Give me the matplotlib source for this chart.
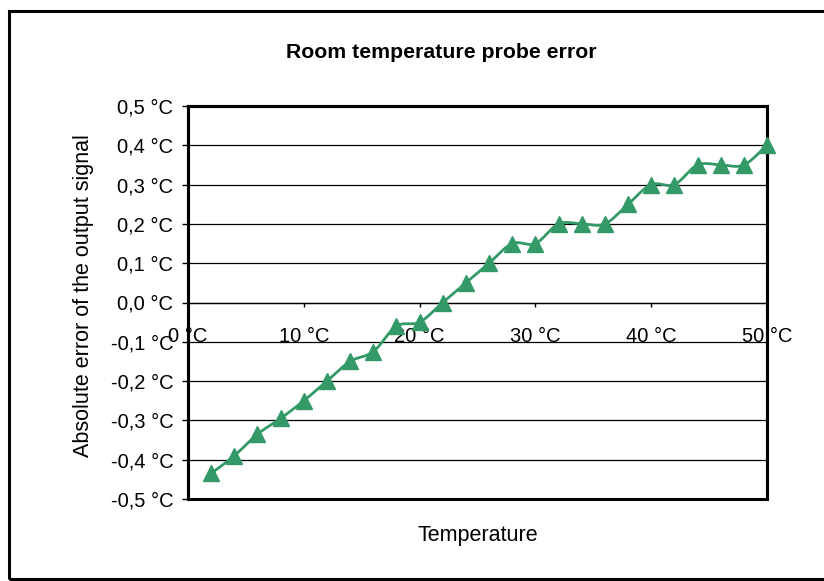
import numpy as np
import matplotlib
matplotlib.use("Agg")
import matplotlib.pyplot as plt
from matplotlib.patches import Rectangle

temps = [2, 4, 6, 8, 10, 12, 14, 16, 18, 20, 22, 24, 26,
         28, 30, 32, 34, 36, 38, 40, 42, 44, 46, 48, 50]
errors = [-0.435, -0.39, -0.335, -0.295, -0.25, -0.20, -0.15, -0.125, -0.06, -0.05, 0.0, 0.05, 0.10,
          0.15, 0.15, 0.20, 0.20, 0.20, 0.25, 0.30, 0.30, 0.35, 0.35, 0.35, 0.40]
x_ticks = [0, 10, 20, 30, 40, 50]
y_ticks = [-0.5, -0.4, -0.3, -0.2, -0.1, 0.0, 0.1, 0.2, 0.3, 0.4, 0.5]

GREEN = "#339966"
plt.rcParams['font.family'] = ['Liberation Sans', 'DejaVu Sans']


def smooth(x, y, n=20):
    # Catmull-Rom curve through the points, like Excel's smoothed line
    x = np.asarray(x, float)
    y = np.asarray(y, float)
    px = np.concatenate([[2 * x[0] - x[1]], x, [2 * x[-1] - x[-2]]])
    py = np.concatenate([[2 * y[0] - y[1]], y, [2 * y[-1] - y[-2]]])
    t = np.linspace(0, 1, n, endpoint=False)
    xs, ys = [], []
    for i in range(1, len(px) - 2):
        for p, out in ((px, xs), (py, ys)):
            p0, p1, p2, p3 = p[i - 1], p[i], p[i + 1], p[i + 2]
            out.extend(0.5 * (2 * p1 + (-p0 + p2) * t
                              + (2 * p0 - 5 * p1 + 4 * p2 - p3) * t ** 2
                              + (-p0 + 3 * p1 - 3 * p2 + p3) * t ** 3))
    xs.append(x[-1])
    ys.append(y[-1])
    return np.array(xs), np.array(ys)


fig = plt.figure(figsize=(8.24, 5.81), dpi=100)
ax = fig.add_axes([188 / 824, 1 - 499 / 581, (767 - 188) / 824, (499 - 106) / 581])

# outer chart frame (right side runs off the image)
fig.add_artist(Rectangle((8.5 / 824, 1 - 579 / 581), 1.0, (579 - 10.5) / 581,
                         transform=fig.transFigure, fill=False, lw=2.2,
                         edgecolor="black", clip_on=False))

for yv in y_ticks:
    ax.axhline(yv, color="black", lw=0.9, zorder=1)

sx, sy = smooth(temps, errors)
ax.plot(sx, sy, color=GREEN, lw=2, zorder=3, clip_on=False)
ax.plot(temps, errors, linestyle="none", marker="^", markersize=11.5,
        color=GREEN, zorder=6, clip_on=False)

ax.set_xlim(0, 50)
ax.set_ylim(-0.5, 0.5)

for side in ["left", "top", "right"]:
    ax.spines[side].set_linewidth(2.2)
ax.spines["bottom"].set_position(("data", 0))
ax.spines["bottom"].set_linewidth(0.9)
ax.add_patch(Rectangle((0, 0), 1, 1, transform=ax.transAxes, fill=False,
                       lw=2.2, edgecolor="black", zorder=5, clip_on=False))

ax.set_xticks(x_ticks)
ax.set_xticklabels([f"{v} °C" for v in x_ticks])
ax.set_yticks(y_ticks)
ax.set_yticklabels([f"{v:.1f} °C".replace(".", ",") for v in y_ticks])
ax.tick_params(axis="x", direction="out", length=3, width=1, pad=15, labelsize=14.5)
ax.tick_params(axis="y", direction="out", length=4.5, width=1, pad=6, labelsize=14.5)

fig.text(441 / 824, 1 - 53 / 581, "Room temperature probe error", fontsize=15.3,
         fontweight="bold", ha="center", va="center")
fig.text(478 / 824, 1 - 536 / 581, "Temperature", fontsize=15.5, ha="center", va="center")
fig.text(84 / 824, 1 - 296 / 581, "Absolute error of the output signal", fontsize=15.5,
         rotation=90, ha="center", va="center")

fig.savefig("out.png", dpi=100)
